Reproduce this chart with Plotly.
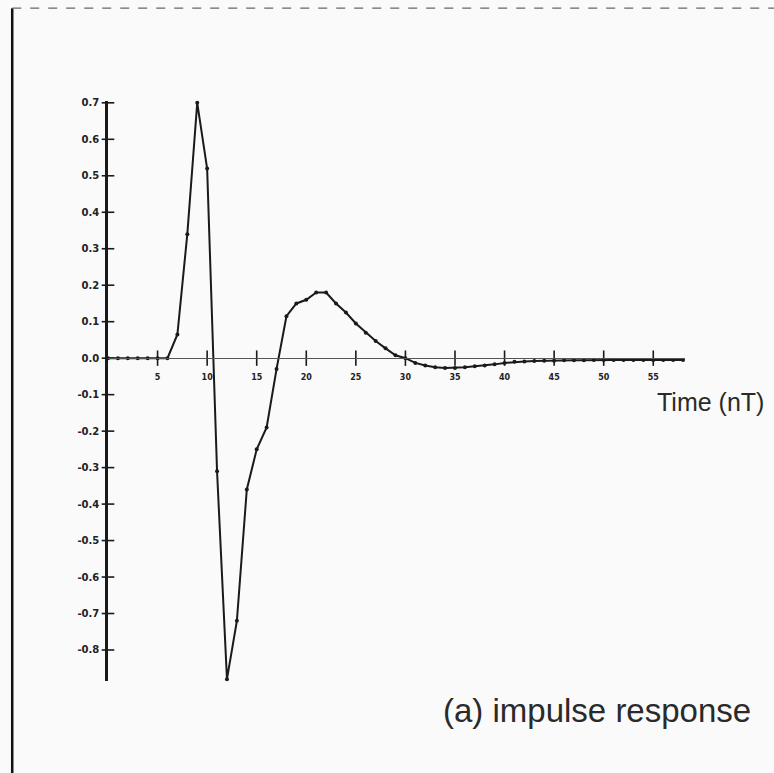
import plotly.graph_objects as go

# Sampled impulse response, one value per sample period T
time_n = list(range(0, 59))
response = [
    0.0, 0.0, 0.0, 0.0, 0.0, 0.0,            # 0-5
    0.0, 0.065, 0.34, 0.70, 0.52,            # 6-10
    -0.31, -0.88, -0.72, -0.36, -0.25,       # 11-15
    -0.19, -0.03, 0.115, 0.15, 0.16,         # 16-20
    0.18, 0.18, 0.15, 0.125, 0.095,          # 21-25
    0.07, 0.047, 0.027, 0.008, 0.0,          # 26-30
    -0.013, -0.02, -0.025, -0.027, -0.027,   # 31-35
    -0.025, -0.022, -0.02, -0.017, -0.013,   # 36-40
    -0.01, -0.009, -0.008, -0.007, -0.007,   # 41-45
    -0.006, -0.006, -0.006, -0.005, -0.005,  # 46-50
    -0.005, -0.005, -0.005, -0.005, -0.005,  # 51-55
    -0.005, -0.005, -0.005,                  # 56-58
]

x_ticks = [5, 10, 15, 20, 25, 30, 35, 40, 45, 50, 55]
x_tick_text = ["5", "10", "15", "20", "25", "30", "35", "40", "45", "50", "55"]
y_ticks = [0.7, 0.6, 0.5, 0.4, 0.3, 0.2, 0.1, 0.0,
           -0.1, -0.2, -0.3, -0.4, -0.5, -0.6, -0.7, -0.8]
y_tick_text = ["0.7", "0.6", "0.5", "0.4", "0.3", "0.2", "0.1", "0.0",
               "-0.1", "-0.2", "-0.3", "-0.4", "-0.5", "-0.6", "-0.7", "-0.8"]

Y_MIN, Y_MAX = -0.885, 0.705
X_MIN, X_MAX = 0.0, 58.2
INK = "#1a1a1a"
TEXT = "#2a2a2a"

fig = go.Figure()

# tick marks crossing the axes
fig.add_trace(go.Scatter(
    x=x_ticks, y=[0] * len(x_ticks), mode="markers",
    marker=dict(symbol="line-ns", size=11, line=dict(color=INK, width=1.6)),
    hoverinfo="skip", showlegend=False, cliponaxis=False,
))
fig.add_trace(go.Scatter(
    x=[0] * len(y_ticks), y=y_ticks, mode="markers",
    marker=dict(symbol="line-ew", size=9, line=dict(color=INK, width=1.6)),
    hoverinfo="skip", showlegend=False, cliponaxis=False,
))

# the response curve
fig.add_trace(go.Scatter(
    x=time_n, y=response, mode="lines+markers",
    line=dict(color=INK, width=2),
    marker=dict(symbol="circle", size=4, color=INK),
    showlegend=False, cliponaxis=False,
))

zero_pos = (0 - Y_MIN) / (Y_MAX - Y_MIN)
tick_font = dict(family="DejaVu Sans", size=10, color="#222222", weight="bold")

fig.update_layout(
    width=774, height=773,
    margin=dict(l=108, r=89, t=101, b=92),
    paper_bgcolor="#fafafa", plot_bgcolor="rgba(0,0,0,0)",
    xaxis=dict(
        range=[X_MIN, X_MAX], anchor="free", position=zero_pos,
        showline=True, linecolor="#555555", linewidth=1,
        showgrid=False, zeroline=False, ticks="",
        tickvals=x_ticks, ticktext=x_tick_text,
        ticklabelstandoff=11,
        tickfont=dict(family="DejaVu Sans", size=8, color="#222222", weight="bold"),
    ),
    yaxis=dict(
        range=[Y_MIN, Y_MAX],
        showline=True, linecolor=INK, linewidth=2.5,
        showgrid=False, zeroline=False, ticks="",
        tickvals=y_ticks, ticktext=y_tick_text,
        ticklabelstandoff=4,
        tickfont=tick_font,
    ),
    annotations=[
        dict(text="Time (nT)", xref="paper", yref="paper",
             x=0.948, y=0.481, xanchor="left", yanchor="middle",
             showarrow=False,
             font=dict(family="Liberation Sans", size=25, color=TEXT)),
        dict(text="(a) impulse response", xref="paper", yref="paper",
             x=1.118, y=-0.050, xanchor="right", yanchor="middle",
             showarrow=False,
             font=dict(family="Liberation Sans", size=33, color=TEXT)),
    ],
    shapes=[
        # page frame
        dict(type="line", xref="paper", yref="paper",
             x0=-0.166, x1=-0.166, y0=1.16, y1=-0.16,
             line=dict(color="#111111", width=2.5)),
        dict(type="line", xref="paper", yref="paper",
             x0=-0.166, x1=1.155, y0=1.16, y1=1.16,
             line=dict(color="#666666", width=1.2, dash="dash")),
    ],
)

fig.write_html("out.html")
